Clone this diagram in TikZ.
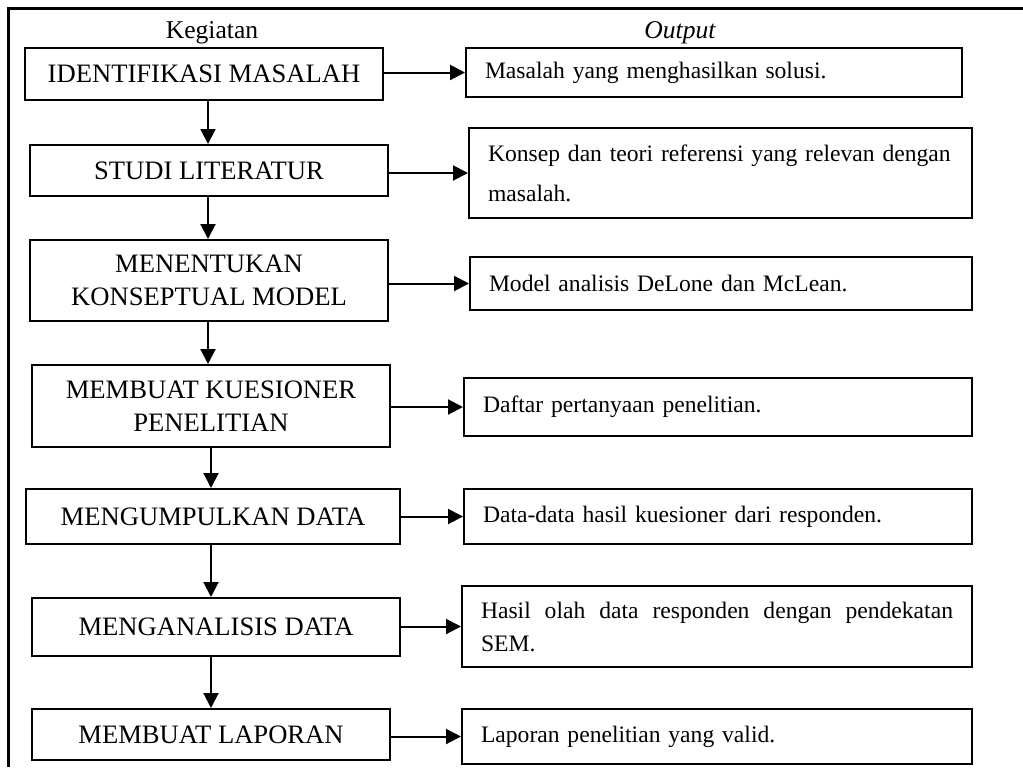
\documentclass[tikz,border=0pt]{standalone}
\usepackage{fontspec}
\setmainfont{Liberation Serif}
\usetikzlibrary{arrows.meta}

\begin{document}
\begin{tikzpicture}[
			x=0.5pt, y=-0.5pt,
			kegiatan/.style={draw, line width=1pt, align=center, inner sep=0pt,
					font=\fontsize{13.3}{16.5}\selectfont},
			hasil/.style={draw, line width=1pt, anchor=west, align=left, inner xsep=9.5pt,
					inner ysep=0pt, font=\fontsize{11.8}{16.5}\selectfont},
			arr/.style={-{Triangle[length=7.5pt,width=7.5pt]}, line width=1pt}
		]
		\useasboundingbox (0,0) rectangle (1023,767);
		\draw[line width=1.5pt] (1023,8) -- (8,8) -- (8,767);

		\node (kegiatan) at (212,33) {\fontsize{12.8}{15}\selectfont Kegiatan};
		\node (output) at (680,33) {\fontsize{12.8}{15}\selectfont\itshape Output};

		\node[kegiatan, minimum width=179pt, minimum height=26pt] (k1) at (204,74) {IDENTIFIKASI MASALAH};
		\node[kegiatan, minimum width=179pt, minimum height=25.5pt] (k2) at (209,170.5) {STUDI LITERATUR};
		\node[kegiatan, minimum width=179pt, minimum height=40.5pt] (k3) at (209,280.5) {MENENTUKAN\\KONSEPTUAL MODEL};
		\node[kegiatan, minimum width=179pt, minimum height=41pt] (k4) at (211,406) {MEMBUAT KUESIONER\\PENELITIAN};
		\node[kegiatan, minimum width=187pt, minimum height=27.5pt] (k5) at (213,516.5) {MENGUMPULKAN DATA};
		\node[kegiatan, minimum width=184pt, minimum height=29pt] (k6) at (216,627) {MENGANALISIS DATA};
		\node[kegiatan, minimum width=179pt, minimum height=25.5pt] (k7) at (211,734.5) {MEMBUAT LAPORAN};

		\node[hasil, text width=229pt, minimum height=24.5pt] (o1) at (465,72.5) {Masalah yang menghasilkan solusi.};
		\node[hasil, text width=232.5pt, minimum height=45pt, font=\fontsize{11.8}{20}\selectfont] (o2) at (468,173) {Konsep dan teori referensi yang relevan dengan\\masalah.};
		\node[hasil, text width=232pt, minimum height=26.5pt] (o3) at (469,283.5) {Model analisis DeLone dan McLean.};
		\node[hasil, text width=235pt, minimum height=29pt] (o4) at (463,407) {Daftar pertanyaan penelitian.};
		\node[hasil, text width=235pt, minimum height=27.5pt] (o5) at (463,516.5) {Data-data hasil kuesioner dari responden.};
		\node[hasil, text width=236pt, minimum height=40.5pt, align=justify] (o6) at (461,626.5) {Hasil olah data responden dengan pendekatan SEM.};
		\node[hasil, text width=236pt, minimum height=27.5pt] (o7) at (461,736.5) {Laporan penelitian yang valid.};

		\foreach \a/\b/\s in {k1/k2/2, k2/k3/-0.5, k3/k4/-0.5, k4/k5/0, k5/k6/-1, k6/k7/-2.5}
		\draw[arr] ([xshift=\s pt]\a.south) -- ([xshift=\s pt]\a.south |- \b.north);
		\foreach \i in {1,...,7}
		\draw[arr] (k\i.east |- o\i.west) -- (o\i.west);
	\end{tikzpicture}
\end{document}
